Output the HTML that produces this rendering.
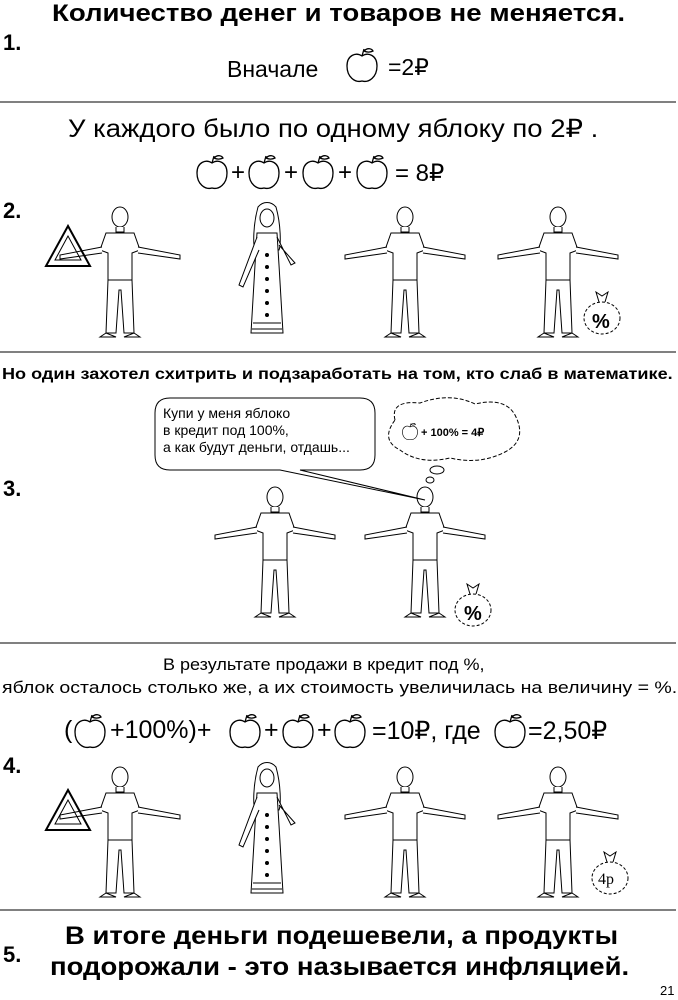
<!DOCTYPE html>
<html><head><meta charset="utf-8"><style>
body{margin:0;width:678px;height:1000px;background:#fff;position:relative;font-family:"Liberation Sans",sans-serif;color:#000;overflow:hidden}
.t{position:absolute;white-space:nowrap;transform-origin:0 0}
.b{font-weight:bold}
svg{position:absolute;left:0;top:0}
</style></head><body>
<svg width="678" height="1000" viewBox="0 0 678 1000">
<defs>
<g id="ap" fill="none" stroke="#000" stroke-width="1.3">
<path d="M0,-12 C-6,-16 -15,-13 -15,-2 C-15,9 -7,15 0,13 C7,15 15,9 15,-2 C15,-13 6,-16 0,-12Z"/>
<path d="M0,-12 L2,-19"/><path d="M2,-17 C6,-21 10,-19 11,-17 C7,-15 4,-16 2,-17Z"/>
</g>
<g id="man" fill="#fff" stroke="#000" stroke-width="1">
<ellipse cx="0" cy="12" rx="8" ry="10"/>
<path d="M-4,22 L-4,27 L4,27 L4,22"/>
<path d="M-14,28 L14,28 L20,45 L12,48 L12,75 L-12,75 L-12,48 L-20,45Z"/>
<path d="M-18,42 L-60,50 L-60,54 L-18,48"/><path d="M18,42 L60,50 L60,54 L18,48"/>
<path d="M-12,75 L-14,128 L-4,128 L-1,85 L1,85 L4,128 L14,128 L12,75Z"/>
<path d="M-14,128 L-20,132 L-4,132 Z M14,128 L20,132 L4,132Z"/>
</g>
<g id="woman" fill="#fff" stroke="#000" stroke-width="1">
<path d="M-9,2 C-14,20 -14,40 -12,45 L12,45 C14,40 14,20 9,2 C4,-4 -4,-4 -9,2Z"/>
<ellipse cx="0" cy="13" rx="7" ry="9"/>
<path d="M-10,28 L10,28 L12,60 L16,128 L-16,128 L-12,60Z"/>
<path d="M-10,32 L-28,80 L-24,82 L-8,45"/><path d="M10,32 L24,60 L28,58 L12,40"/>
<g fill="#000"><circle cx="0" cy="50" r="1.5"/><circle cx="0" cy="62" r="1.5"/><circle cx="0" cy="74" r="1.5"/><circle cx="0" cy="86" r="1.5"/><circle cx="0" cy="98" r="1.5"/><circle cx="0" cy="110" r="1.5"/></g>
<path d="M-14,118 L14,118 M-15,124 L15,124"/>
</g>
<g id="tri" fill="none" stroke="#000" stroke-width="2"><path d="M0,-22 L-22,18 L22,18Z"/><path d="M0,-12 L-13,12 L13,12Z" stroke-width="1"/></g>
<g id="bag" fill="none" stroke="#000" stroke-width="1"><ellipse cx="0" cy="0" rx="18" ry="16" stroke-dasharray="3,2"/><path d="M-3,-16 L-6,-26 L0,-22 L6,-26 L3,-16"/></g>
</defs>
<g stroke="#000" stroke-width="1"><line x1="0" y1="102" x2="676" y2="102"/><line x1="0" y1="352" x2="676" y2="352"/><line x1="0" y1="643" x2="676" y2="643"/><line x1="0" y1="910" x2="676" y2="910"/></g>
<use href="#ap" x="362" y="68"/>
<use href="#ap" x="212" y="175"/><use href="#ap" x="264" y="175"/><use href="#ap" x="318" y="175"/><use href="#ap" x="372" y="175"/>
<use href="#ap" x="90" y="734"/><use href="#ap" x="245" y="734"/><use href="#ap" x="298" y="734"/><use href="#ap" x="350" y="734"/><use href="#ap" x="510" y="734"/>
<use href="#man" x="120" y="205"/><use href="#tri" x="68" y="248"/>
<use href="#woman" x="267" y="205"/>
<use href="#man" x="405" y="205"/>
<use href="#man" x="558" y="205"/><use href="#bag" x="602" y="318"/>
<text x="592" y="328" font-family="Liberation Sans" font-weight="bold" font-size="20">%</text>
<use href="#man" x="275" y="485"/>
<use href="#man" x="425" y="485"/><use href="#bag" x="473" y="610"/>
<text x="464" y="620" font-family="Liberation Sans" font-weight="bold" font-size="20">%</text>
<path d="M175,398 L360,398 Q375,398 375,413 L375,455 Q375,470 360,470 L300,470 L425,500 L280,470 L170,470 Q155,470 155,455 L155,413 Q155,398 170,398Z" fill="#fff" stroke="#000"/>
<path d="M395,420 Q390,400 420,403 Q450,392 475,404 Q505,397 515,415 Q528,440 505,452 Q480,465 450,458 Q420,465 400,450 Q380,440 395,420Z" fill="#fff" stroke="#000" stroke-dasharray="4,2"/>
<ellipse cx="437" cy="470" rx="7" ry="4" fill="none" stroke="#000"/><ellipse cx="430" cy="480" rx="4" ry="3" fill="none" stroke="#000"/>
<g transform="translate(410,433) scale(0.5)"><use href="#ap"/></g>
<use href="#man" x="120" y="765"/><use href="#tri" x="68" y="812"/>
<use href="#woman" x="267" y="765"/>
<use href="#man" x="405" y="765"/>
<use href="#man" x="558" y="765"/><use href="#bag" x="610" y="878"/>
<text x="598" y="884" font-family="Liberation Serif" font-size="16">4р</text>
</svg>
<div class="t b" style="left:52px;top:0px;font-size:24px;transform:scaleX(1.15)">Количество денег и товаров не меняется.</div>
<div class="t b" style="left:3px;top:30px;font-size:22px">1.</div>
<div class="t" style="left:227px;top:56px;font-size:23px">Вначале</div>
<div class="t" style="left:388px;top:54px;font-size:23px">=2₽</div>
<div class="t" style="left:68px;top:114px;font-size:25px;transform:scaleX(1.1)">У каждого было по одному яблоку по 2₽ .</div>
<div class="t" style="left:231px;top:159px;font-size:24px">+</div>
<div class="t" style="left:284px;top:159px;font-size:24px">+</div>
<div class="t" style="left:338px;top:159px;font-size:24px">+</div>
<div class="t" style="left:395px;top:159px;font-size:24px">= 8₽</div>
<div class="t b" style="left:3px;top:198px;font-size:22px">2.</div>
<div class="t b" style="left:2px;top:366px;font-size:16px;transform:scaleX(1.13)">Но один захотел схитрить и подзаработать на том, кто слаб в математике.</div>
<div class="t" style="left:163px;top:405px;font-size:14px;line-height:17px">Купи у меня яблоко<br>в кредит под 100%,<br>а как будут деньги, отдашь...</div>
<div class="t b" style="left:421px;top:426px;font-size:11px">+ 100% = 4₽</div>
<div class="t b" style="left:3px;top:476px;font-size:22px">3.</div>
<div class="t" style="left:163px;top:655px;font-size:17px;transform:scaleX(1.06)">В результате продажи в кредит под %,</div>
<div class="t" style="left:2px;top:678px;font-size:17px;transform:scaleX(1.15)">яблок осталось столько же, а их стоимость увеличилась на величину = %.</div>
<div class="t" style="left:64px;top:716px;font-size:25px">(</div>
<div class="t" style="left:110px;top:716px;font-size:25px">+100%)+</div>
<div class="t" style="left:264px;top:716px;font-size:25px">+</div>
<div class="t" style="left:317px;top:716px;font-size:25px">+</div>
<div class="t" style="left:372px;top:716px;font-size:25px">=10₽, где</div>
<div class="t" style="left:528px;top:716px;font-size:25px">=2,50₽</div>
<div class="t b" style="left:3px;top:753px;font-size:22px">4.</div>
<div class="t b" style="left:65px;top:922px;font-size:25px;transform:scaleX(1.1)">В итоге деньги подешевели, а продукты</div>
<div class="t b" style="left:50px;top:953px;font-size:25px;transform:scaleX(1.1)">подорожали - это называется инфляцией.</div>
<div class="t b" style="left:3px;top:942px;font-size:22px">5.</div>
<div class="t" style="left:660px;top:983px;font-size:13px">21</div>
</body></html>
